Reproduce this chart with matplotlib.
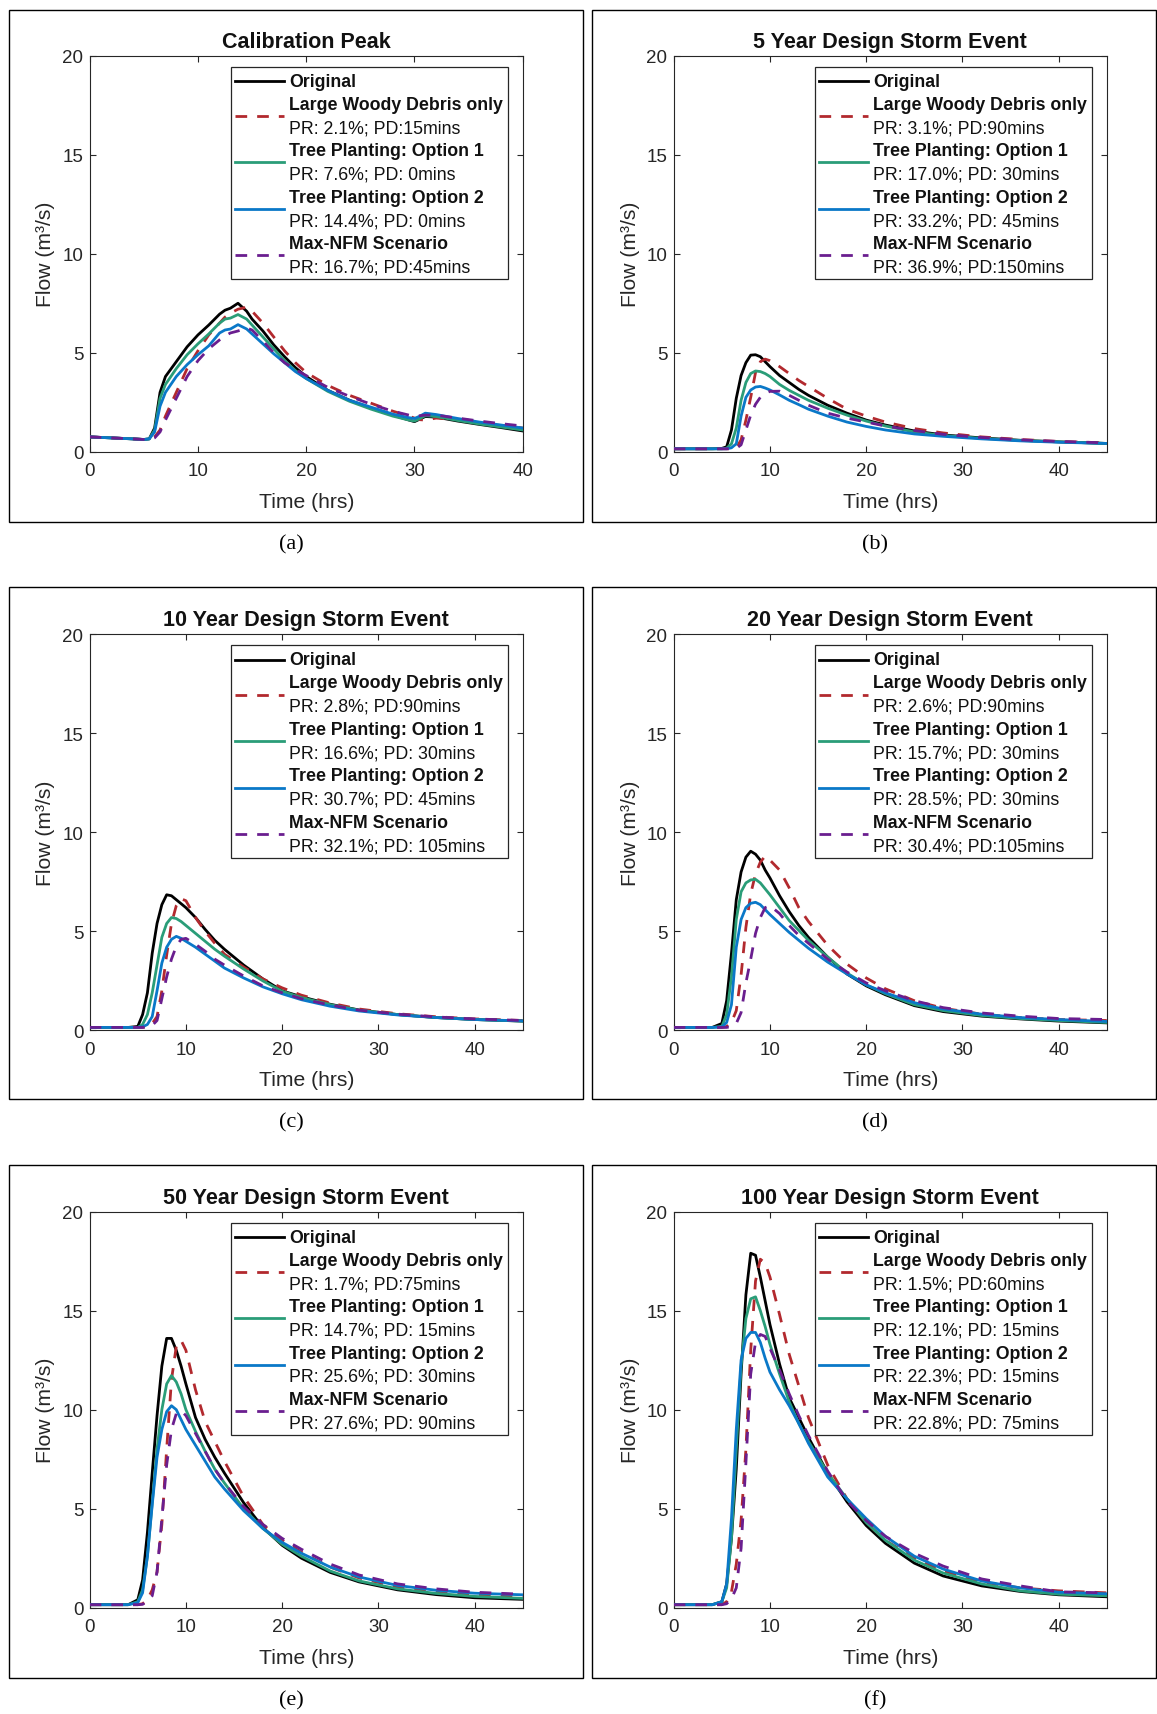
import matplotlib
matplotlib.use("Agg")
import matplotlib.pyplot as plt
from matplotlib.patches import Rectangle
from matplotlib.lines import Line2D

plt.rcParams['font.family'] = ['Liberation Sans', 'DejaVu Sans']

# ---- данные ----
# калибровочное событие (a)
t_cal = [0, 2, 4, 5, 5.5, 6, 6.5, 7, 8, 9, 10, 11, 12, 12.5, 13, 13.7, 14.5, 15, 16, 17,
         18, 19, 20, 22, 24, 26, 28, 29.5, 30, 30.5, 31, 32, 34, 36, 38, 40]
cal_orig = [0.75, 0.7, 0.65, 0.62, 0.65, 1.2, 3.0, 3.8, 4.55, 5.3, 5.9, 6.4, 6.95, 7.15, 7.25, 7.5, 7.1, 6.7,
            6.1, 5.4, 4.8, 4.25, 3.8, 3.1, 2.6, 2.2, 1.85, 1.6, 1.52, 1.65, 1.78, 1.75, 1.55, 1.38, 1.22, 1.05]
cal_lwd = [0.75, 0.7, 0.65, 0.62, 0.62, 0.75, 1.1, 1.8, 3.0, 4.2, 5.1, 5.9, 6.5, 6.8, 7.0, 7.2, 7.3, 7.1,
           6.5, 5.8, 5.1, 4.5, 4.0, 3.35, 2.85, 2.45, 2.05, 1.8, 1.7, 1.62, 1.6, 1.7, 1.62, 1.45, 1.32, 1.2]
cal_tp1 = [0.75, 0.7, 0.65, 0.62, 0.65, 1.1, 2.7, 3.4, 4.2, 4.9, 5.45, 5.95, 6.5, 6.7, 6.75, 6.93, 6.7, 6.4,
           5.8, 5.2, 4.6, 4.1, 3.7, 3.05, 2.55, 2.15, 1.8, 1.6, 1.55, 1.68, 1.82, 1.78, 1.58, 1.4, 1.25, 1.1]
cal_tp2 = [0.75, 0.7, 0.65, 0.62, 0.65, 1.0, 2.3, 3.0, 3.8, 4.4, 4.9, 5.35, 6.0, 6.15, 6.2, 6.42, 6.2, 5.95,
           5.45, 4.95, 4.5, 4.05, 3.7, 3.1, 2.6, 2.25, 1.9, 1.72, 1.68, 1.8, 1.95, 1.88, 1.68, 1.5, 1.35, 1.2]
cal_max = [0.75, 0.7, 0.65, 0.62, 0.62, 0.7, 1.0, 1.6, 2.7, 3.8, 4.6, 5.2, 5.65, 5.85, 6.0, 6.1, 6.25, 6.15,
           5.6, 5.0, 4.5, 4.15, 3.85, 3.25, 2.8, 2.4, 2.05, 1.85, 1.8, 1.82, 1.85, 1.85, 1.7, 1.55, 1.42, 1.3]

# расчётные ливни (b-f), общая сетка времени
t_des = [0, 4, 5, 5.5, 6, 6.5, 7, 7.5, 8, 8.5, 9, 9.5, 10, 11, 12, 13, 14, 16, 18, 20, 22, 25, 28, 32, 36, 40, 45]

y5_orig = [0.15, 0.15, 0.17, 0.25, 1.1, 2.7, 3.85, 4.5, 4.88, 4.9, 4.8, 4.55, 4.3, 3.85, 3.5, 3.15, 2.85,
           2.35, 1.95, 1.6, 1.35, 1.05, 0.85, 0.7, 0.58, 0.5, 0.42]
y5_lwd = [0.15, 0.15, 0.15, 0.15, 0.15, 0.2, 0.6, 1.6, 2.75, 4.0, 4.55, 4.68, 4.6, 4.3, 3.95, 3.6, 3.3,
          2.7, 2.15, 1.8, 1.5, 1.17, 0.95, 0.75, 0.62, 0.52, 0.45]
y5_tp1 = [0.15, 0.15, 0.15, 0.18, 0.4, 1.2, 2.6, 3.5, 3.95, 4.08, 4.05, 3.95, 3.8, 3.4, 3.1, 2.85, 2.6,
          2.2, 1.85, 1.55, 1.3, 1.0, 0.82, 0.68, 0.57, 0.5, 0.42]
y5_tp2 = [0.15, 0.15, 0.15, 0.15, 0.2, 0.4, 1.8, 2.75, 3.12, 3.27, 3.3, 3.22, 3.12, 2.87, 2.6, 2.38, 2.15,
          1.8, 1.5, 1.28, 1.1, 0.9, 0.78, 0.65, 0.55, 0.48, 0.42]
y5_max = [0.15, 0.15, 0.15, 0.15, 0.15, 0.17, 0.35, 1.1, 1.85, 2.4, 2.75, 2.95, 3.05, 3.06, 2.85, 2.6, 2.35,
          1.95, 1.7, 1.5, 1.3, 1.07, 0.88, 0.72, 0.6, 0.52, 0.45]

y10_orig = [0.15, 0.15, 0.2, 0.8, 1.9, 3.9, 5.4, 6.35, 6.85, 6.8, 6.6, 6.4, 6.2, 5.7, 5.1, 4.55, 4.1,
            3.3, 2.6, 2.0, 1.7, 1.32, 1.03, 0.8, 0.65, 0.55, 0.47]
y10_lwd = [0.15, 0.15, 0.15, 0.15, 0.2, 0.35, 0.7, 2.0, 3.8, 5.4, 6.3, 6.65, 6.55, 5.7, 5.0, 4.4, 3.85,
           3.2, 2.6, 2.15, 1.78, 1.38, 1.08, 0.84, 0.69, 0.58, 0.5]
y10_tp1 = [0.15, 0.15, 0.15, 0.3, 0.8, 1.9, 3.3, 4.7, 5.4, 5.7, 5.65, 5.5, 5.3, 4.9, 4.5, 4.1, 3.75,
           3.1, 2.5, 1.98, 1.66, 1.3, 1.02, 0.8, 0.65, 0.55, 0.47]
y10_tp2 = [0.15, 0.15, 0.15, 0.18, 0.3, 0.7, 2.0, 3.4, 4.2, 4.6, 4.75, 4.65, 4.5, 4.2, 3.85, 3.5, 3.15,
           2.65, 2.2, 1.85, 1.55, 1.22, 0.98, 0.78, 0.65, 0.55, 0.48]
y10_max = [0.15, 0.15, 0.15, 0.15, 0.17, 0.25, 0.5, 1.6, 2.7, 3.6, 4.25, 4.6, 4.65, 4.35, 4.0, 3.6, 3.3,
           2.75, 2.25, 1.9, 1.6, 1.28, 1.02, 0.82, 0.68, 0.58, 0.5]

y20_orig = [0.15, 0.15, 0.35, 1.5, 3.9, 6.6, 8.0, 8.75, 9.05, 8.9, 8.6, 8.1, 7.7, 6.8, 6.0, 5.3, 4.7,
            3.7, 2.85, 2.25, 1.8, 1.25, 0.95, 0.72, 0.58, 0.47, 0.38]
y20_lwd = [0.15, 0.15, 0.15, 0.2, 0.4, 1.0, 2.8, 5.2, 6.9, 7.9, 8.5, 8.8, 8.6, 8.1, 7.2, 6.2, 5.5,
           4.3, 3.35, 2.65, 2.1, 1.5, 1.12, 0.82, 0.65, 0.55, 0.5]
y20_tp1 = [0.15, 0.15, 0.2, 0.8, 2.7, 5.6, 7.0, 7.45, 7.6, 7.63, 7.45, 7.15, 6.85, 6.2, 5.55, 5.05, 4.55,
           3.7, 2.9, 2.3, 1.85, 1.3, 1.0, 0.75, 0.6, 0.5, 0.4]
y20_tp2 = [0.15, 0.15, 0.17, 0.4, 1.3, 4.2, 5.6, 6.2, 6.42, 6.47, 6.35, 6.1, 5.85, 5.4, 4.95, 4.55, 4.15,
           3.45, 2.85, 2.3, 1.9, 1.4, 1.08, 0.82, 0.65, 0.55, 0.45]
y20_max = [0.15, 0.15, 0.15, 0.15, 0.2, 0.35, 0.9, 2.4, 3.6, 4.9, 5.7, 6.2, 6.3, 5.9, 5.3, 4.8, 4.4,
           3.6, 2.95, 2.4, 2.0, 1.5, 1.15, 0.88, 0.72, 0.6, 0.55]

y50_orig = [0.15, 0.15, 0.4, 1.4, 3.8, 6.8, 9.7, 12.2, 13.6, 13.6, 13.0, 12.2, 11.3, 9.6, 8.5, 7.6, 6.8,
            5.3, 4.05, 3.15, 2.5, 1.78, 1.3, 0.9, 0.66, 0.5, 0.42]
y50_lwd = [0.15, 0.15, 0.15, 0.2, 0.4, 0.9, 1.8, 4.2, 8.0, 11.5, 13.2, 13.5, 13.0, 11.0, 9.4, 8.4, 7.4,
           5.6, 4.2, 3.4, 2.8, 2.05, 1.5, 1.05, 0.8, 0.65, 0.58]
y50_tp1 = [0.15, 0.15, 0.3, 0.9, 2.6, 5.3, 8.0, 10.0, 11.3, 11.72, 11.4, 10.8, 10.0, 8.9, 7.9, 7.0, 6.3,
           5.0, 4.0, 3.2, 2.6, 1.85, 1.35, 0.95, 0.72, 0.57, 0.47]
y50_tp2 = [0.15, 0.15, 0.25, 0.75, 2.6, 5.2, 7.6, 9.0, 9.9, 10.2, 10.0, 9.5, 9.0, 8.2, 7.4, 6.6, 6.0,
           4.9, 4.0, 3.3, 2.75, 2.05, 1.55, 1.12, 0.88, 0.73, 0.65]
y50_max = [0.15, 0.15, 0.15, 0.17, 0.3, 0.6, 1.8, 4.5, 7.2, 9.0, 9.8, 9.95, 9.7, 8.8, 7.9, 7.0, 6.3,
           5.1, 4.2, 3.5, 2.95, 2.2, 1.65, 1.2, 0.95, 0.78, 0.68]

y100_orig = [0.15, 0.15, 0.3, 1.2, 3.5, 7.0, 11.8, 15.8, 17.9, 17.8, 16.7, 15.5, 14.3, 12.3, 10.6, 9.6, 8.6,
             6.8, 5.35, 4.15, 3.25, 2.25, 1.6, 1.1, 0.82, 0.65, 0.55]
y100_lwd = [0.15, 0.15, 0.15, 0.3, 0.8, 2.2, 4.4, 8.0, 13.0, 16.5, 17.6, 17.4, 16.7, 14.8, 12.8, 11.2, 9.6,
            7.2, 5.5, 4.3, 3.4, 2.5, 1.85, 1.3, 1.0, 0.85, 0.75]
y100_tp1 = [0.15, 0.15, 0.3, 1.0, 3.5, 8.0, 12.2, 14.6, 15.6, 15.7, 15.0, 14.2, 13.3, 11.8, 10.4, 9.3, 8.4,
            6.8, 5.5, 4.3, 3.4, 2.4, 1.75, 1.2, 0.85, 0.68, 0.6]
y100_tp2 = [0.15, 0.15, 0.3, 1.2, 4.5, 9.0, 12.5, 13.6, 13.9, 13.9, 13.4, 12.6, 11.9, 11.0, 10.2, 9.3, 8.3,
            6.6, 5.5, 4.5, 3.6, 2.6, 1.95, 1.35, 1.0, 0.78, 0.7]
y100_max = [0.15, 0.15, 0.15, 0.2, 0.45, 1.0, 3.0, 7.3, 11.8, 13.4, 13.8, 13.7, 13.1, 12.0, 10.8, 9.7, 8.7,
            6.9, 5.4, 4.4, 3.6, 2.75, 2.1, 1.45, 1.1, 0.8, 0.75]

titles = ["Calibration Peak", "5 Year Design Storm Event", "10 Year Design Storm Event",
          "20 Year Design Storm Event", "50 Year Design Storm Event", "100 Year Design Storm Event"]
captions = ["(a)", "(b)", "(c)", "(d)", "(e)", "(f)"]
series_names = ["Original", "Large Woody Debris only", "Tree Planting: Option 1",
                "Tree Planting: Option 2", "Max-NFM Scenario"]
stats = [
    ["PR: 2.1%; PD:15mins", "PR: 7.6%; PD: 0mins", "PR: 14.4%; PD: 0mins", "PR: 16.7%; PD:45mins"],
    ["PR: 3.1%; PD:90mins", "PR: 17.0%; PD: 30mins", "PR: 33.2%; PD: 45mins", "PR: 36.9%; PD:150mins"],
    ["PR: 2.8%; PD:90mins", "PR: 16.6%; PD: 30mins", "PR: 30.7%; PD: 45mins", "PR: 32.1%; PD: 105mins"],
    ["PR: 2.6%; PD:90mins", "PR: 15.7%; PD: 30mins", "PR: 28.5%; PD: 30mins", "PR: 30.4%; PD:105mins"],
    ["PR: 1.7%; PD:75mins", "PR: 14.7%; PD: 15mins", "PR: 25.6%; PD: 30mins", "PR: 27.6%; PD: 90mins"],
    ["PR: 1.5%; PD:60mins", "PR: 12.1%; PD: 15mins", "PR: 22.3%; PD: 15mins", "PR: 22.8%; PD: 75mins"],
]
panel_times = [t_cal, t_des, t_des, t_des, t_des, t_des]
panel_flows = [
    [cal_orig, cal_lwd, cal_tp1, cal_tp2, cal_max],
    [y5_orig, y5_lwd, y5_tp1, y5_tp2, y5_max],
    [y10_orig, y10_lwd, y10_tp1, y10_tp2, y10_max],
    [y20_orig, y20_lwd, y20_tp1, y20_tp2, y20_max],
    [y50_orig, y50_lwd, y50_tp1, y50_tp2, y50_max],
    [y100_orig, y100_lwd, y100_tp1, y100_tp2, y100_max],
]
x_max = [40, 45, 45, 45, 45, 45]

# ---- стиль ----
colors = ["#000000", "#B2292E", "#2A9D78", "#0A78C8", "#6A1E8F"]
dashed = [False, True, False, False, True]
LW = 2.0
DASH = (4.2, 3.6)
axc = "#262626"

fig = plt.figure(figsize=(11.57, 17.15), dpi=100)

lefts = [0.0775, 0.5823]
bottoms = [0.7360, 0.3986, 0.0620]
aw, ah = 0.3743, 0.2309
frame_x = [(0.0075, 0.4965), (0.5113, 0.4875)]
frame_y = [(0.6952, 0.2984), (0.3586, 0.2983), (0.0212, 0.2990)]
cap_x = [0.2515, 0.756]
cap_y = [0.6824, 0.3452, 0.0084]


def draw_legend(ax, st):
    # рамка легенды
    ax.add_patch(Rectangle((0.326, 0.436), 0.641, 0.536, transform=ax.transAxes,
                           facecolor="white", edgecolor=axc, lw=0.9, zorder=10))
    y0, dy = 0.936, 0.0587
    rows = [(0, None)] + [(1 + 2 * k, st[k]) for k in range(4)]
    for i, (r, s) in enumerate(rows):
        yl = y0 - r * dy if s is None else y0 - (r + 0.5) * dy
        ln = Line2D([0.336, 0.449], [yl, yl], transform=ax.transAxes, color=colors[i],
                    lw=LW, zorder=11)
        if dashed[i]:
            ln.set_dashes(DASH)
        ax.add_line(ln)
        ax.text(0.46, y0 - r * dy, series_names[i], transform=ax.transAxes, fontsize=12.8,
                fontweight="bold", va="center", ha="left", color="#111111", zorder=12)
        if s is not None:
            ax.text(0.46, y0 - (r + 1) * dy, s, transform=ax.transAxes, fontsize=12.8,
                    va="center", ha="left", color="#111111", zorder=12)


for p in range(6):
    row, col = p // 2, p % 2
    ax = fig.add_axes([lefts[col], bottoms[row], aw, ah])
    t = panel_times[p]
    for i, q in enumerate(panel_flows[p]):
        line, = ax.plot(t, q, color=colors[i], lw=LW, zorder=2 + i)
        if dashed[i]:
            line.set_dashes(DASH)
    ax.set_xlim(0, x_max[p])
    ax.set_ylim(0, 20)
    ax.set_xticks([0, 10, 20, 30, 40])
    ax.set_yticks([0, 5, 10, 15, 20])
    ax.tick_params(direction="in", top=True, right=True, length=4, width=0.8,
                   colors=axc, labelsize=13.5)
    ax.tick_params(axis="x", pad=7.5)
    ax.tick_params(axis="y", pad=4.5)
    for sp in ax.spines.values():
        sp.set_color(axc)
        sp.set_linewidth(0.8)
    ax.set_title(titles[p], fontsize=15.5, fontweight="bold", pad=6.5, color="#111111")
    ax.set_xlabel("Time (hrs)", fontsize=15.2, color=axc, labelpad=9)
    ax.set_ylabel("Flow (m³/s)", fontsize=15.2, color=axc, labelpad=5)
    draw_legend(ax, stats[p])

    fx, fw = frame_x[col]
    fy, fh = frame_y[row]
    fig.add_artist(Rectangle((fx, fy), fw, fh, transform=fig.transFigure, fill=False,
                             edgecolor="black", lw=1.0))
    fig.text(cap_x[col], cap_y[row], captions[p], ha="center", va="center", fontsize=16,
             family="Liberation Serif")

fig.savefig("out.png", dpi=100, facecolor="white")
